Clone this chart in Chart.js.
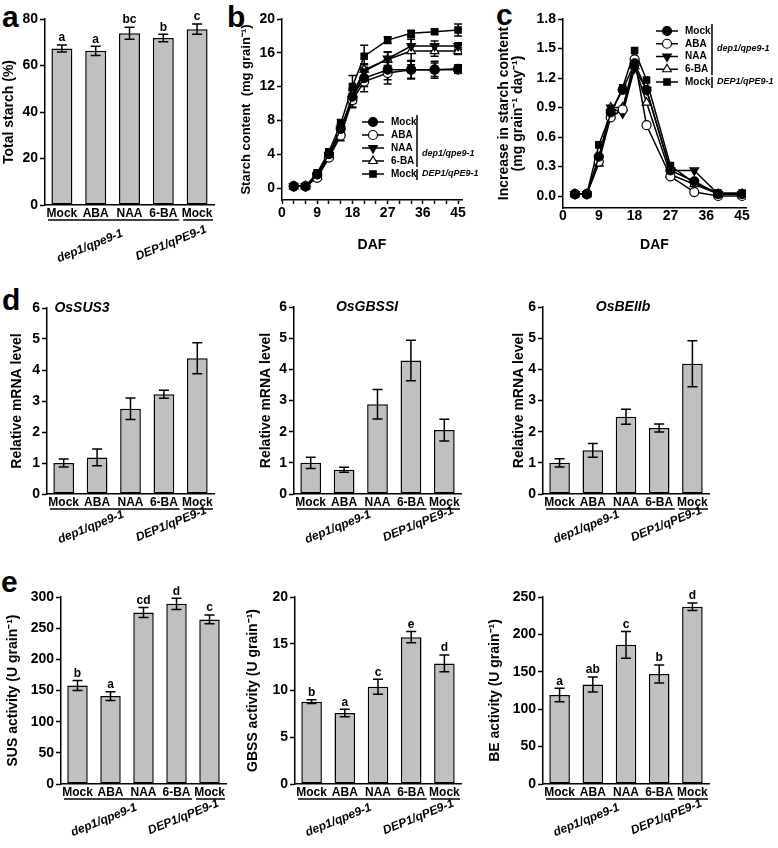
<!DOCTYPE html>
<html>
<head>
<meta charset="utf-8">
<script src="https://cdn.jsdelivr.net/npm/chart.js@4.4.1/dist/chart.umd.min.js"></script>
<style>
  body { margin: 0; background: #fff; }
  #fig { position: relative; width: 778px; height: 848px; overflow: hidden; }
  #fig canvas { position: absolute; }
  .tag { position: absolute; font: bold 30px "Liberation Sans", Arial, sans-serif; line-height: 1; color: #000; }
</style>
</head>
<body>
<div id="fig">
  <div class="tag" style="left:2px;top:2px">a</div>
  <div class="tag" style="left:227px;top:2px">b</div>
  <div class="tag" style="left:496px;top:0px">c</div>
  <div class="tag" style="left:2px;top:285px">d</div>
  <div class="tag" style="left:1px;top:567px">e</div>
</div>
<script>
// ---- data ----
const treatments = ['Mock', 'ABA', 'NAA', '6-BA', 'Mock'];
const groupNames = ['dep1/qpe9-1', 'DEP1/qPE9-1'];
const groupOf = [0, 0, 0, 0, 1];

// a: total starch
const totalStarch = [67.3, 66.3, 73.9, 71.8, 75.6];
const totalStarchErr = [1.5, 2.0, 2.6, 1.6, 2.2];
const totalStarchSig = ['a', 'a', 'bc', 'b', 'c'];

// b, c: grain filling (DAF)
const daf = [3, 6, 9, 12, 15, 18, 21, 27, 33, 39, 45];
const dafTicks = [0, 3, 6, 9, 12, 15, 18, 21, 24, 27, 30, 33, 36, 39, 42, 45];
const dafLabels = [0, 9, 18, 27, 36, 45];

const contentMock = [0.2, 0.2, 1.6, 4.0, 7.0, 10.8, 13.0, 14.0, 14.0, 14.0, 14.1];
const contentABA = [0.2, 0.2, 1.2, 3.6, 6.2, 10.4, 12.6, 13.6, 14.0, 14.0, 14.0];
const contentNAA = [0.2, 0.2, 1.5, 3.9, 7.0, 10.5, 13.8, 15.3, 16.8, 16.8, 16.8];
const content6BA = [0.2, 0.2, 1.3, 3.8, 6.6, 11.0, 14.0, 15.2, 16.2, 16.2, 16.2];
const contentWT = [0.2, 0.2, 1.8, 4.3, 7.6, 12.0, 15.6, 17.5, 18.3, 18.5, 18.7];

const contentMockErr = [0.1, 0.1, 0.2, 0.3, 0.5, 0.8, 1.0, 1.2, 1.0, 0.8, 0.5];
const contentABAErr = [0.1, 0.1, 0.2, 0.3, 0.6, 0.8, 1.2, 1.3, 1.1, 1.0, 0.4];
const contentNAAErr = [0.1, 0.1, 0.2, 0.3, 0.6, 1.0, 0.8, 0.8, 0.8, 0.6, 0.4];
const content6BAErr = [0.1, 0.1, 0.2, 0.3, 0.5, 0.8, 0.7, 0.9, 1.6, 0.6, 0.4];
const contentWTErr = [0.1, 0.1, 0.2, 0.3, 0.5, 1.3, 1.3, 0.4, 0.3, 0.3, 0.7];
const contentTicks = [0, 4, 8, 12, 16, 20];

const rateMock = [0.02, 0.02, 0.40, 0.85, 1.08, 1.35, 1.08, 0.26, 0.15, 0.02, 0.02];
const rateABA = [0.02, 0.02, 0.35, 0.80, 0.88, 1.39, 0.72, 0.20, 0.04, 0.00, 0.00];
const rateNAA = [0.02, 0.02, 0.38, 0.90, 0.84, 1.30, 1.08, 0.26, 0.26, 0.02, 0.02];
const rate6BA = [0.02, 0.02, 0.33, 0.90, 0.90, 1.32, 0.95, 0.22, 0.12, 0.02, 0.02];
const rateWT = [0.02, 0.02, 0.52, 0.84, 1.10, 1.48, 1.18, 0.31, 0.13, 0.03, 0.03];
const rateTicks = [0, 0.3, 0.6, 0.9, 1.2, 1.5, 1.8];

// d: relative mRNA levels
const sus3 = [1.0, 1.18, 2.75, 3.22, 4.38];
const sus3Err = [0.13, 0.27, 0.35, 0.13, 0.50];
const gbssi = [1.0, 0.78, 2.88, 4.28, 2.05];
const gbssiErr = [0.18, 0.08, 0.47, 0.65, 0.35];
const beiib = [1.0, 1.40, 2.48, 2.12, 4.18];
const beiibErr = [0.13, 0.22, 0.24, 0.13, 0.74];

// e: enzyme activities
const susAct = [158, 141, 275, 289, 264];
const susActErr = [8, 7, 8, 9, 7];
const susActSig = ['b', 'a', 'cd', 'd', 'c'];
const gbssAct = [8.8, 7.6, 10.4, 15.7, 12.9];
const gbssActErr = [0.2, 0.4, 0.8, 0.6, 0.9];
const gbssActSig = ['b', 'a', 'c', 'e', 'd'];
const beAct = [119, 133, 186, 147, 237];
const beActErr = [9, 10, 18, 12, 5];
const beActSig = ['a', 'ab', 'c', 'b', 'd'];

// ---- drawing helpers ----
const FONT = '"Liberation Sans", Arial, sans-serif';
const black = '#000';

function makeCanvas(left, top, w, h) {
  const c = document.createElement('canvas');
  c.width = w; c.height = h;
  c.style.left = left + 'px'; c.style.top = top + 'px';
  c.style.width = w + 'px'; c.style.height = h + 'px';
  document.getElementById('fig').appendChild(c);
  return c;
}

function drawErrors(chart) {
  const ctx = chart.ctx, ys = chart.scales.y;
  chart.data.datasets.forEach((ds, i) => {
    if (!ds.errors) return;
    const meta = chart.getDatasetMeta(i);
    ctx.save();
    ctx.strokeStyle = black;
    ctx.lineWidth = 1.5;
    meta.data.forEach((el, j) => {
      const v = typeof ds.data[j] === 'object' ? ds.data[j].y : ds.data[j];
      const e = ds.errors[j];
      const top = ys.getPixelForValue(v + e), bot = ys.getPixelForValue(v - e);
      const w = ds.capWidth;
      ctx.beginPath();
      ctx.moveTo(el.x, top); ctx.lineTo(el.x, bot);
      ctx.moveTo(el.x - w, top); ctx.lineTo(el.x + w, top);
      ctx.moveTo(el.x - w, bot); ctx.lineTo(el.x + w, bot);
      ctx.stroke();
      if (ds.letters) {
        ctx.fillStyle = black;
        ctx.font = `bold 12px ${FONT}`;
        ctx.textAlign = 'center';
        ctx.textBaseline = 'bottom';
        ctx.fillText(ds.letters[j], el.x, top - 1);
      }
    });
    ctx.restore();
  });
}

const errorBars = {
  id: 'errorBars',
  beforeDatasetsDraw(chart) { if (chart.config.type === 'line') drawErrors(chart); },
  afterDatasetsDraw(chart) { if (chart.config.type === 'bar') drawErrors(chart); }
};

// underlines + slanted genotype names under bar charts
const groupAxis = {
  id: 'groupAxis',
  afterDraw(chart, args, o) {
    const ctx = chart.ctx, xs = chart.scales.x;
    const half = (xs.getPixelForValue(1) - xs.getPixelForValue(0)) / 2;
    const base = chart.chartArea.bottom;
    ctx.save();
    ctx.strokeStyle = black;
    ctx.lineWidth = 1.5;
    groupNames.forEach((name, g) => {
      const idx = groupOf.map((v, i) => v === g ? i : -1).filter(i => i >= 0);
      const x0 = xs.getPixelForValue(idx[0]) - half + 3;
      const x1 = xs.getPixelForValue(idx[idx.length - 1]) + half - 1;
      ctx.beginPath();
      ctx.moveTo(x0, base + 15); ctx.lineTo(x1, base + 15);
      ctx.stroke();
    });
    ctx.fillStyle = black;
    ctx.font = `italic bold 12px ${FONT}`;
    ctx.textAlign = 'right';
    ctx.textBaseline = 'middle';
    const anchors = [[xs.getPixelForValue(2) - 7, base + 20 + o.drop], [xs.getPixelForValue(4) + 9, base + 16 + o.drop]];
    groupNames.forEach((name, g) => {
      ctx.save();
      ctx.translate(anchors[g][0], anchors[g][1]);
      ctx.rotate(-22 * Math.PI / 180);
      ctx.fillText(name, 0, 0);
      ctx.restore();
    });
    if (o.title) {
      ctx.font = `italic bold 14px ${FONT}`;
      ctx.textAlign = 'center';
      ctx.fillText(o.title, chart.chartArea.left + o.titleDx, chart.chartArea.top);
    }
    ctx.restore();
  }
};

// legend with bracketed genotype names for b and c
const seriesLegend = {
  id: 'seriesLegend',
  afterDraw(chart, args, o) {
    const ctx = chart.ctx;
    ctx.save();
    chart.data.datasets.forEach((ds, i) => {
      const y = o.y + i * o.dy;
      ctx.strokeStyle = black;
      ctx.lineWidth = 1.5;
      ctx.beginPath(); ctx.moveTo(o.x - 11, y); ctx.lineTo(o.x + 11, y); ctx.stroke();
      ctx.fillStyle = ds.pointBackgroundColor;
      ctx.lineWidth = 1.2;
      Chart.helpers.drawPoint(ctx, { pointStyle: ds.pointStyle, radius: ds.pointRadius, rotation: ds.pointRotation || 0, borderWidth: 1.2 }, o.x, y);
      ctx.fillStyle = black;
      ctx.font = `bold 10px ${FONT}`;
      ctx.textAlign = 'left';
      ctx.textBaseline = 'middle';
      ctx.fillText(ds.label, o.x + 18, y);
    });
    const bx = o.x + o.barDx;
    ctx.lineWidth = 1.5;
    ctx.beginPath();
    ctx.moveTo(bx, o.y - 7); ctx.lineTo(bx, o.y + 3 * o.dy + 6);
    ctx.moveTo(bx, o.y + 4 * o.dy - 5); ctx.lineTo(bx, o.y + 4 * o.dy + 6);
    ctx.stroke();
    ctx.font = `italic bold 9px ${FONT}`;
    ctx.fillText(groupNames[0], bx + 5, o.y + o.dep1Row * o.dy);
    ctx.fillText(groupNames[1], bx + 5, o.y + 4 * o.dy);
    ctx.restore();
  }
};

function yAxis(min, max, step, title, yW, titleFont) {
  return {
    min, max,
    ticks: { stepSize: step, color: black, font: { family: FONT, size: 14, weight: 'bold' }, padding: 2 },
    grid: { drawOnChartArea: false, tickLength: 5, tickColor: black, tickWidth: 1.5 },
    border: { color: black, width: 1.5 },
    title: { display: true, text: title, color: black, font: titleFont || { family: FONT, size: 14, weight: 'bold' }, padding: 0 },
    afterFit: s => { s.width = yW; }
  };
}

function barPanel(box, values, errors, letters, yMin, yMax, yStep, yTitle, deco) {
  const c = makeCanvas(box.left, box.top, box.w, box.h);
  return new Chart(c, {
    type: 'bar',
    data: {
      labels: treatments,
      datasets: [{
        data: values, errors, letters, capWidth: 5,
        backgroundColor: '#c0c0c0', borderColor: black, borderWidth: 1.5, borderSkipped: false,
        barPercentage: 0.62, categoryPercentage: 1
      }]
    },
    options: {
      responsive: false, animation: false, devicePixelRatio: 1,
      layout: { padding: { top: box.padTop, right: box.padRight, left: 0, bottom: 0 } },
      plugins: { legend: { display: false }, tooltip: { enabled: false }, groupAxis: deco },
      scales: {
        x: {
          ticks: { color: black, font: { family: FONT, size: 12, weight: 'bold' }, padding: 1, maxRotation: 0, autoSkip: false },
          grid: { display: false, drawTicks: false },
          border: { color: black, width: 1.5 },
          afterFit: s => { s.height = box.xH; }
        },
        y: yAxis(yMin, yMax, yStep, yTitle, box.yW)
      }
    },
    plugins: [errorBars, groupAxis]
  });
}

function lineSet(label, vals, errs, style, fill, rotation, radius) {
  return {
    label,
    data: daf.map((d, i) => ({ x: d, y: vals[i] })),
    errors: errs, capWidth: 4,
    borderColor: black, borderWidth: 1.5,
    pointStyle: style, pointRadius: radius, pointRotation: rotation,
    pointBackgroundColor: fill, pointBorderColor: black, pointBorderWidth: 1.2,
    tension: 0
  };
}

function linePanel(box, sets, yMin, yMax, yTicks, yFmt, yTitle, titleFont, legend) {
  const c = makeCanvas(box.left, box.top, box.w, box.h);
  const y = yAxis(yMin, yMax, 1, yTitle, box.yW, titleFont);
  y.afterBuildTicks = s => { s.ticks = yTicks.map(v => ({ value: v })); };
  y.ticks.callback = yFmt;
  return new Chart(c, {
    type: 'line',
    data: { datasets: sets },
    options: {
      responsive: false, animation: false, devicePixelRatio: 1,
      layout: { padding: { top: box.padTop, right: box.padRight, left: 0, bottom: 0 } },
      plugins: { legend: { display: false }, tooltip: { enabled: false }, seriesLegend: legend },
      scales: {
        x: {
          type: 'linear', min: 0, max: 46,
          afterBuildTicks: s => { s.ticks = dafTicks.map(v => ({ value: v })); },
          ticks: {
            autoSkip: false, maxRotation: 0, color: black, padding: box.tickPad,
            font: { family: FONT, size: 14, weight: 'bold' },
            callback: v => dafLabels.includes(v) ? v : ''
          },
          grid: { drawOnChartArea: false, drawTicks: box.tickLen > 0, tickLength: box.tickLen, tickColor: black, tickWidth: 1.5 },
          border: { color: black, width: 1.5 },
          title: { display: true, text: 'DAF', color: black, font: { family: FONT, size: 14, weight: 'bold' }, padding: { top: 0, bottom: box.titlePad } },
          afterFit: s => { s.height = box.xH; }
        },
        y
      }
    },
    plugins: [errorBars, seriesLegend]
  });
}

// ---- panel a ----
barPanel({ left: 1, top: 0, w: 249, h: 262, yW: 44, padTop: 19, padRight: 36, xH: 57 },
  totalStarch, totalStarchErr, totalStarchSig, 0, 80, 20, 'Total starch (%)', { drop: 8 });

// ---- panel b ----
linePanel({ left: 239, top: 0, w: 266, h: 262, yW: 43, padTop: 19, padRight: 43, xH: 62, titlePad: 8, tickLen: 4, tickPad: 1 },
  [
    lineSet('Mock', contentMock, contentMockErr, 'circle', black, 0, 4.5),
    lineSet('ABA', contentABA, contentABAErr, 'circle', '#fff', 0, 4.5),
    lineSet('NAA', contentNAA, contentNAAErr, 'triangle', black, 180, 5),
    lineSet('6-BA', content6BA, content6BAErr, 'triangle', '#fff', 0, 5),
    lineSet('Mock', contentWT, contentWTErr, 'rect', black, 0, 4.5)
  ],
  -1.42, 20, contentTicks, v => v, 'Starch content  (mg grain\u207B\u00B9)',
  { family: FONT, size: 13, weight: 'bold' },
  { x: 134, y: 122, dy: 13, barDx: 44, dep1Row: 2.4 });

// ---- panel c ----
linePanel({ left: 497, top: 0, w: 281, h: 262, yW: 66, padTop: 19, padRight: 32, xH: 54, titlePad: 8, tickLen: 0, tickPad: 0 },
  [
    lineSet('Mock', rateMock, null, 'circle', black, 0, 4.5),
    lineSet('ABA', rateABA, null, 'circle', '#fff', 0, 4.5),
    lineSet('NAA', rateNAA, null, 'triangle', black, 180, 5),
    lineSet('6-BA', rate6BA, null, 'triangle', '#fff', 0, 5),
    lineSet('Mock', rateWT, null, 'rect', black, 0, 4.5)
  ],
  -0.122, 1.8, rateTicks, v => v.toFixed(1), ['Increase in starch content', '(mg grain\u207B\u00B9 day\u207B\u00B9)'],
  { family: FONT, size: 14, weight: 'bold', lineHeight: 1.0 },
  { x: 170, y: 31, dy: 12.75, barDx: 45, dep1Row: 1.35 });

// ---- panel d ----
barPanel({ left: 9, top: 290, w: 240, h: 255, yW: 38, padTop: 18, padRight: 35, xH: 51 },
  sus3, sus3Err, null, 0, 6, 1, 'Relative mRNA level', { drop: 0, title: 'OsSUS3', titleDx: 35 });
barPanel({ left: 258, top: 290, w: 240, h: 255, yW: 36, padTop: 17, padRight: 37, xH: 51 },
  gbssi, gbssiErr, null, 0, 6, 1, 'Relative mRNA level', { drop: 0, title: 'OsGBSSI', titleDx: 73 });
barPanel({ left: 511, top: 290, w: 267, h: 255, yW: 32, padTop: 17, padRight: 69, xH: 51 },
  beiib, beiibErr, null, 0, 6, 1, 'Relative mRNA level', { drop: 0, title: 'OsBEIIb', titleDx: 80 });

// ---- panel e ----
barPanel({ left: 5, top: 575, w: 240, h: 273, yW: 56, padTop: 22, padRight: 19, xH: 64 },
  susAct, susActErr, susActSig, 0, 300, 50, 'SUS activity (U grain\u207B\u00B9)', { drop: 3 });
barPanel({ left: 245, top: 575, w: 240, h: 273, yW: 50, padTop: 22, padRight: 24, xH: 64 },
  gbssAct, gbssActErr, gbssActSig, 0, 20, 5, 'GBSS activity (U grain\u207B\u00B9)', { drop: 3 });
barPanel({ left: 487, top: 575, w: 291, h: 273, yW: 56, padTop: 22, padRight: 69, xH: 64 },
  beAct, beActErr, beActSig, 0, 250, 50, 'BE activity (U grain\u207B\u00B9)', { drop: 3 });
</script>
</body>
</html>
